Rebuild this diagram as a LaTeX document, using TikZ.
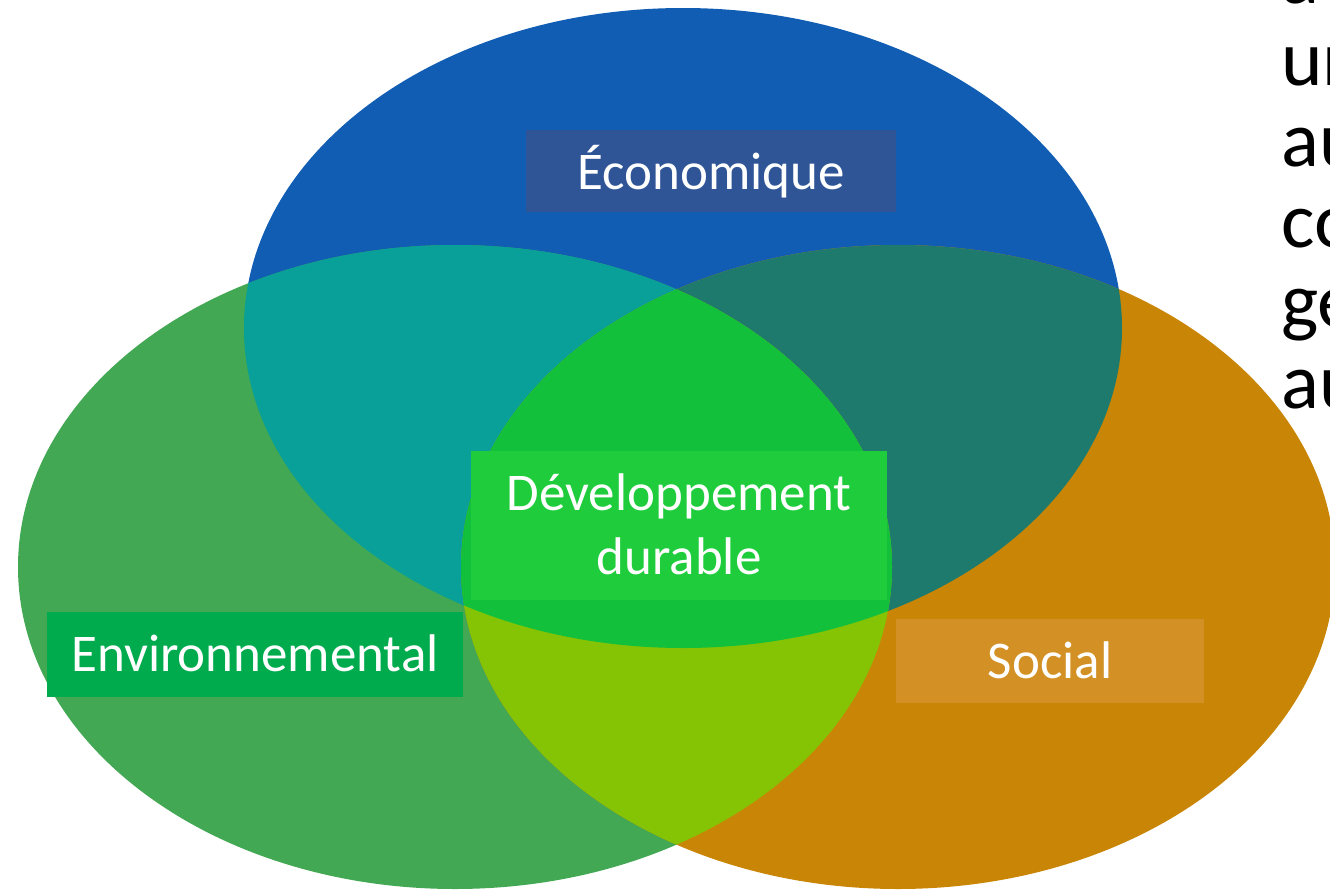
\documentclass[tikz,border=0pt]{standalone}
\usepackage{fontspec}
\setmainfont{Carlito}
\definecolor{cBlue}{HTML}{115DB3}
\definecolor{cGreen}{HTML}{43A853}
\definecolor{cOrange}{HTML}{C98606}
\definecolor{cBG}{HTML}{08A098}
\definecolor{cBO}{HTML}{1E7A6C}
\definecolor{cGO}{HTML}{84C405}
\definecolor{cAll}{HTML}{12C03B}
\definecolor{cEcoBox}{HTML}{2F5597}
\definecolor{cDevBox}{HTML}{1ECC3C}
\definecolor{cEnvBox}{HTML}{00AB4E}
\definecolor{cSocBox}{HTML}{D39125}
\tikzset{
  labelbox/.style={inner sep=0pt, outer sep=0pt, text=white, font=\fontsize{53}{64}\selectfont, align=center},
  sidetext/.style={anchor=base west, inner sep=0pt, text=black, font=\fontsize{79}{82}\selectfont}
}
\begin{document}
\begin{tikzpicture}[x=1pt,y=-1pt]
\useasboundingbox (0,0) rectangle (1330,889);
\def\pathBlue{(683,328) ellipse [x radius=439, y radius=320]}
\def\pathGreen{(455,567) ellipse [x radius=437, y radius=322]}
\def\pathOrange{(898,567) ellipse [x radius=437, y radius=322]}
% base ellipses
\fill[cBlue] \pathBlue;
\fill[cGreen] \pathGreen;
\fill[cOrange] \pathOrange;
% pairwise intersections
\begin{scope}
  \clip \pathBlue;
  \fill[cBG] \pathGreen;
  \fill[cBO] \pathOrange;
\end{scope}
\begin{scope}
  \clip \pathGreen;
  \fill[cGO] \pathOrange;
\end{scope}
% triple intersection
\begin{scope}
  \clip \pathBlue;
  \clip \pathGreen;
  \fill[cAll] \pathOrange;
\end{scope}
% label boxes
\fill[cEcoBox] (526,130) rectangle (896,212);
\node[labelbox, anchor=base] (eco) at (711,189) {Économique};
\fill[cDevBox] (471,451) rectangle (887,600);
\node[labelbox, anchor=base] (dev1) at (679,510) {Développement};
\node[labelbox, anchor=base] (dev2) at (679,574) {durable};
\fill[cEnvBox] (47,612) rectangle (463,697);
\node[labelbox, anchor=base] (env) at (255,671) {Environnemental};
\fill[cSocBox] (896,619) rectangle (1204,703);
\node[labelbox, anchor=base] (soc) at (1050,678) {Social};
% cropped side text
\node[sidetext] (t0) at (1281,3) {a};
\node[sidetext] (t1) at (1281,85) {un};
\node[sidetext] (t2) at (1281,166) {au};
\node[sidetext] (t3) at (1281,247) {co};
\node[sidetext] (t4) at (1281,327) {ge};
\node[sidetext] (t5) at (1281,408) {au};
\end{tikzpicture}
\end{document}
